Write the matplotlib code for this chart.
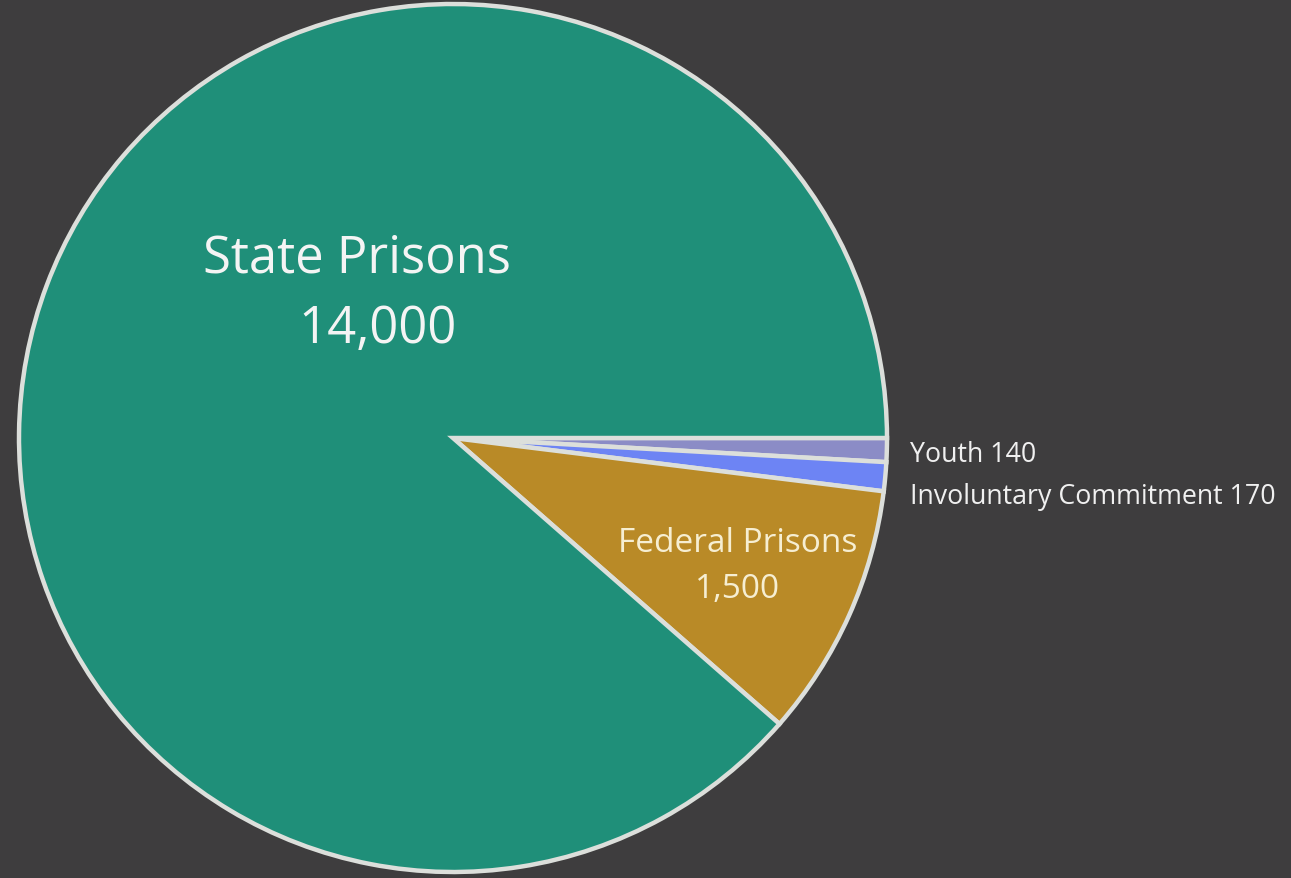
import matplotlib
matplotlib.use("Agg")
from matplotlib import pyplot as plt

# data
categories = ["Youth", "Involuntary Commitment", "Federal Prisons", "State Prisons"]
values = [140, 170, 1500, 14000]
value_labels = ["140", "170", "1,500", "14,000"]
colors = ["#8b8cc6", "#6d84f4", "#b98a27", "#1f8f79"]

W, H = 1291, 879
fig = plt.figure(figsize=(W / 100, H / 100), dpi=100)
fig.patch.set_facecolor("#3e3d3e")
ax = fig.add_axes([0, 0, 1, 1])
ax.set_facecolor("#3e3d3e")

# pie in pixel coords (y measured from bottom)
cx, cy, r = 453, H - 439, 434
ax.pie(values, colors=colors, startangle=0, counterclock=False,
       center=(cx, cy), radius=r, frame=True,
       wedgeprops=dict(edgecolor="#dcdfdb", linewidth=3.2, joinstyle="miter"))
ax.set_xlim(0, W)
ax.set_ylim(0, H)
ax.set_aspect("equal")
ax.axis("off")

font = ["Open Sans", "DejaVu Sans"]
# big slice label
ax.text(357, H - 259, categories[3], color="#f4f4f4", fontsize=36.5, family=font,
        ha="center", va="center")
ax.text(378, H - 329, value_labels[3], color="#f4f4f4", fontsize=36.5, family=font,
        ha="center", va="center")
# federal
ax.text(738, H - 543, categories[2], color="#f6eed2", fontsize=24, family=font,
        ha="center", va="center")
ax.text(738, H - 590, value_labels[2], color="#f6eed2", fontsize=24, family=font,
        ha="center", va="center")
# small slices, outside
ax.text(910, H - 455, categories[0] + " " + value_labels[0], color="#f0f0f0",
        fontsize=19.3, family=font, ha="left", va="center")
ax.text(910, H - 497, categories[1] + " " + value_labels[1], color="#f0f0f0",
        fontsize=19.3, family=font, ha="left", va="center")

fig.savefig("out.png", dpi=100, facecolor=fig.get_facecolor())
